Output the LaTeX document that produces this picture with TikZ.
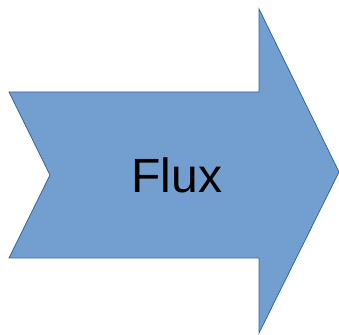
\documentclass[tikz,border=0pt]{standalone}
\usepackage{fontspec}
\setmainfont{Liberation Sans}
\usepackage{xcolor}
\definecolor{fluxfill}{RGB}{114,159,207}
\definecolor{fluxline}{RGB}{52,101,164}

\begin{document}
\begin{tikzpicture}[x=1pt,y=1pt]
  \useasboundingbox (0,0) rectangle (339,334);
  \draw[fill=fluxfill, draw=fluxline, line width=0.8pt, line join=miter]
    (9,242) -- (259,242) -- (259,325) -- (339,162) -- (259,1) -- (259,76) -- (9,76) -- (50,159) -- cycle;
  \node[font=\fontsize{48}{56}\selectfont, text=black] (flux) at (177,159) {Flux};
\end{tikzpicture}
\end{document}
